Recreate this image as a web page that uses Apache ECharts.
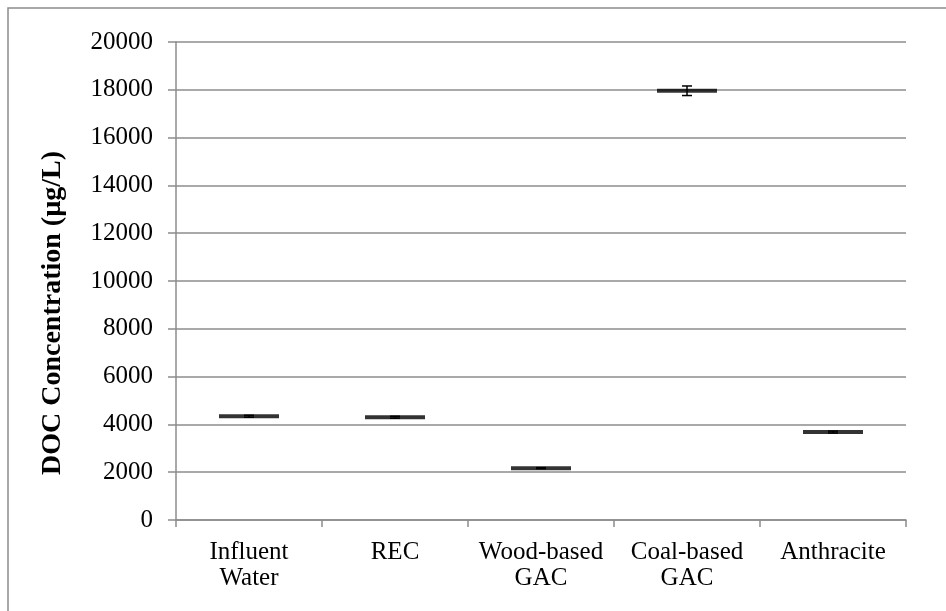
<!DOCTYPE html>
<html>
<head>
<meta charset="utf-8">
<style>
html, body { margin: 0; padding: 0; background: #fff; }
#main { width: 946px; height: 611px; }
</style>
</head>
<body>
<div id="main"></div>
<script src="https://cdn.jsdelivr.net/npm/echarts@6/dist/echarts.min.js"></script>
<script>
// data
var categories = ['Influent\nWater', 'REC', 'Wood-based\nGAC', 'Coal-based\nGAC', 'Anthracite'];
var means = [4340, 4300, 2170, 17960, 3680];
var errors = [40, 40, 20, 200, 40];
var yTitle = 'DOC Concentration (µg/L)';

var font = '"Liberation Serif", "Times New Roman", serif';
var grey = '#8c8c8c';

var chart = echarts.init(document.getElementById('main'));

// error bar data: [index, low, high]
var errData = means.map(function (m, i) {
    return [i, m - errors[i], m + errors[i]];
});

var option = {
    animation: false,
    backgroundColor: '#fff',
    graphic: [{
        type: 'rect',
        shape: { x: 8, y: 8, width: 960, height: 640 },
        style: { fill: 'none', stroke: grey, lineWidth: 1.5 },
        silent: true
    }, {
        // axis title, placed like the original (centred on the whole chart height)
        type: 'text',
        x: 53, y: 313,
        rotation: Math.PI / 2,
        style: {
            text: yTitle,
            fill: '#000',
            font: 'bold 28px ' + font,
            align: 'center',
            verticalAlign: 'middle'
        },
        silent: true
    }],
    grid: { left: 176, right: 40, top: 42, bottom: 91 },
    xAxis: {
        type: 'category',
        data: categories,
        boundaryGap: true,
        axisLine: { lineStyle: { color: grey, width: 1.5 } },
        axisTick: { show: true, length: 7, lineStyle: { color: grey, width: 1.5 } },
        axisLabel: {
            color: '#000', fontFamily: font, fontSize: 25, margin: 19,
            lineHeight: 26, interval: 0
        },
        splitLine: { show: false }
    },
    yAxis: {
        type: 'value',
        min: 0, max: 20000, interval: 2000,
        axisLine: { show: true, lineStyle: { color: grey, width: 1.5 } },
        axisTick: { show: true, inside: false, length: 8, lineStyle: { color: grey, width: 1.5 } },
        axisLabel: {
            color: '#000', fontFamily: font, fontSize: 25, margin: 23,
            formatter: function (v) { return String(v); }
        },
        splitLine: { show: true, lineStyle: { color: grey, width: 1.5 } }
    },
    series: [
        {
            type: 'scatter',
            data: means,
            symbol: 'rect',
            symbolSize: [60, 4],
            itemStyle: { color: '#000' },
            z: 3
        },
        {
            type: 'custom',
            data: errData,
            z: 4,
            renderItem: function (params, api) {
                var x = api.value(0);
                var lo = api.coord([x, api.value(1)]);
                var hi = api.coord([x, api.value(2)]);
                var cap = 5;
                var st = { stroke: '#000', lineWidth: 1.5 };
                return {
                    type: 'group',
                    children: [
                        { type: 'line', shape: { x1: lo[0], y1: lo[1], x2: hi[0], y2: hi[1] }, style: st },
                        { type: 'line', shape: { x1: lo[0] - cap, y1: lo[1], x2: lo[0] + cap, y2: lo[1] }, style: st },
                        { type: 'line', shape: { x1: hi[0] - cap, y1: hi[1], x2: hi[0] + cap, y2: hi[1] }, style: st }
                    ]
                };
            }
        }
    ]
};

chart.setOption(option);
</script>
</body>
</html>
